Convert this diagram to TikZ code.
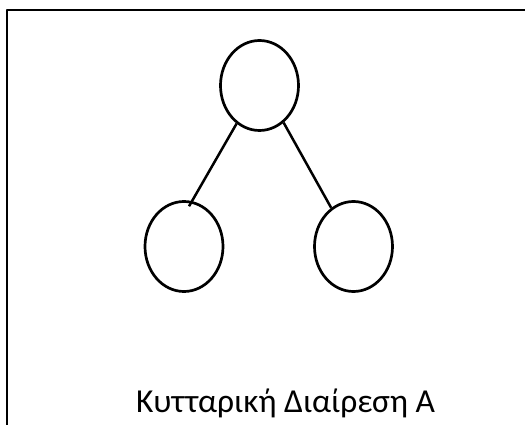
\documentclass[tikz,border=0pt]{standalone}
\usepackage{fontspec}
\setmainfont{Carlito}
\usepackage{tikz}
\usetikzlibrary{shapes.geometric}

\begin{document}
\begin{tikzpicture}[x=1pt, y=-1pt, line join=round]
  \tikzstyle{cell} = [ellipse, draw=black, line width=2.7pt, minimum width=78pt, minimum height=90pt, inner sep=0pt]
  \tikzstyle{link} = [draw=black, line width=2.5pt]
  \useasboundingbox (0,0) rectangle (525,425);
  \draw[line width=2.6pt] (7,425) -- (7,10) -- (525,10);

  \node [cell] (mother) at (259.5,85.5) {};
  \node [cell] (daughterA) at (184,246.5) {};
  \node [cell] (daughterB) at (353.5,246.5) {};

  \draw[link, shorten >=-6pt] (mother.239) -- (daughterA.80);
  \draw[link] (mother.303) -- (daughterB.120);

  \node [anchor=base, inner sep=0pt, font=\fontsize{33.5}{35}\selectfont] (caption) at (285.5,412) {Κυτταρική Διαίρεση Α};
\end{tikzpicture}
\end{document}
